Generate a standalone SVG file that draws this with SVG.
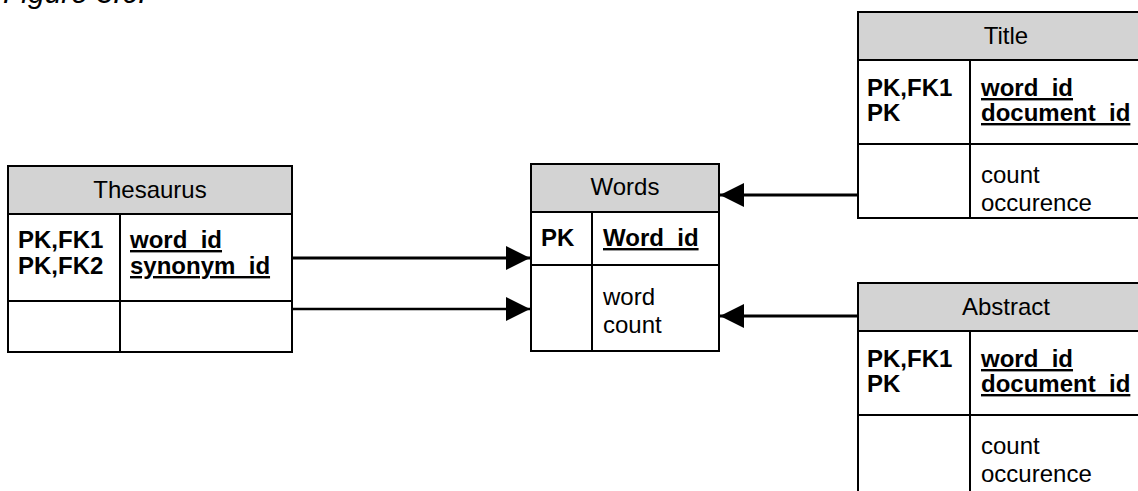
<svg xmlns="http://www.w3.org/2000/svg" width="1138" height="491" viewBox="0 0 1138 491">
  <style>
    text { font-family: "Liberation Sans", Arial, sans-serif; fill: #000; }
    .cap { font-size: 30px; font-style: italic; }
    .hdr { font-size: 24px; text-anchor: middle; }
    .key { font-size: 24px; font-weight: bold; }
    .pk { font-size: 24px; font-weight: bold; text-decoration: underline; }
    .att { font-size: 24px; }
    .box { fill: #fff; stroke: #000; stroke-width: 2; }
    .head { fill: #d3d3d3; stroke: #000; stroke-width: 2; }
    .sep { stroke: #000; stroke-width: 2; }
    .rel { stroke: #000; stroke-width: 3; fill: none; marker-end: url(#arrow); }
  </style>
  <defs>
    <marker id="arrow" markerUnits="userSpaceOnUse" markerWidth="24" markerHeight="24" refX="24" refY="12" orient="auto">
      <path d="M0,0 L24,12 L0,24 Z" fill="#000"/>
    </marker>
  </defs>
  <rect width="1138" height="491" fill="#fff"/>

  <text class="cap" x="3" y="3">Figure 3.6:</text>

  <!-- relationships -->
  <g id="connectors">
    <line class="rel" x1="292" y1="258" x2="530" y2="258"/>
    <line class="rel" x1="292" y1="309" x2="530" y2="309" style="stroke-width:2.5"/>
    <line class="rel" x1="858" y1="195" x2="720" y2="195"/>
    <line class="rel" x1="858" y1="316" x2="720" y2="316"/>
  </g>

  <!-- Thesaurus -->
  <g id="thesaurus">
    <rect class="box" x="8" y="166" width="284" height="186"/>
    <rect class="head" x="8" y="166" width="284" height="48"/>
    <line class="sep" x1="120" y1="214" x2="120" y2="352"/>
    <line class="sep" x1="8" y1="301" x2="292" y2="301"/>
    <text class="hdr" x="150" y="198">Thesaurus</text>
    <text class="key" x="18" y="248">PK,FK1</text>
    <text class="key" x="18" y="274">PK,FK2</text>
    <text class="pk" x="130" y="248">word_id</text>
    <text class="pk" x="130" y="274">synonym_id</text>
  </g>

  <!-- Words -->
  <g id="words">
    <rect class="box" x="531" y="164" width="188" height="187"/>
    <rect class="head" x="531" y="164" width="188" height="48"/>
    <line class="sep" x1="592" y1="212" x2="592" y2="351"/>
    <line class="sep" x1="531" y1="265" x2="719" y2="265"/>
    <text class="hdr" x="625" y="195">Words</text>
    <text class="key" x="541" y="246">PK</text>
    <text class="pk" x="603" y="246">Word_id</text>
    <text class="att" x="603" y="305">word</text>
    <text class="att" x="603" y="333">count</text>
  </g>

  <!-- Title -->
  <g id="title">
    <rect class="box" x="858" y="12" width="296" height="206"/>
    <rect class="head" x="858" y="12" width="296" height="48"/>
    <line class="sep" x1="970" y1="60" x2="970" y2="218"/>
    <line class="sep" x1="858" y1="144" x2="1154" y2="144"/>
    <text class="hdr" x="1006" y="44">Title</text>
    <text class="key" x="867" y="96">PK,FK1</text>
    <text class="key" x="867" y="121">PK</text>
    <text class="pk" x="981" y="96">word_id</text>
    <text class="pk" x="981" y="121">document_id</text>
    <text class="att" x="981" y="183">count</text>
    <text class="att" x="981" y="211">occurence</text>
  </g>

  <!-- Abstract -->
  <g id="abstract">
    <rect class="box" x="858" y="283" width="296" height="210"/>
    <rect class="head" x="858" y="283" width="296" height="48"/>
    <line class="sep" x1="970" y1="331" x2="970" y2="493"/>
    <line class="sep" x1="858" y1="415" x2="1154" y2="415"/>
    <text class="hdr" x="1006" y="315">Abstract</text>
    <text class="key" x="867" y="367">PK,FK1</text>
    <text class="key" x="867" y="392">PK</text>
    <text class="pk" x="981" y="367">word_id</text>
    <text class="pk" x="981" y="392">document_id</text>
    <text class="att" x="981" y="454">count</text>
    <text class="att" x="981" y="482">occurence</text>
  </g>
</svg>
